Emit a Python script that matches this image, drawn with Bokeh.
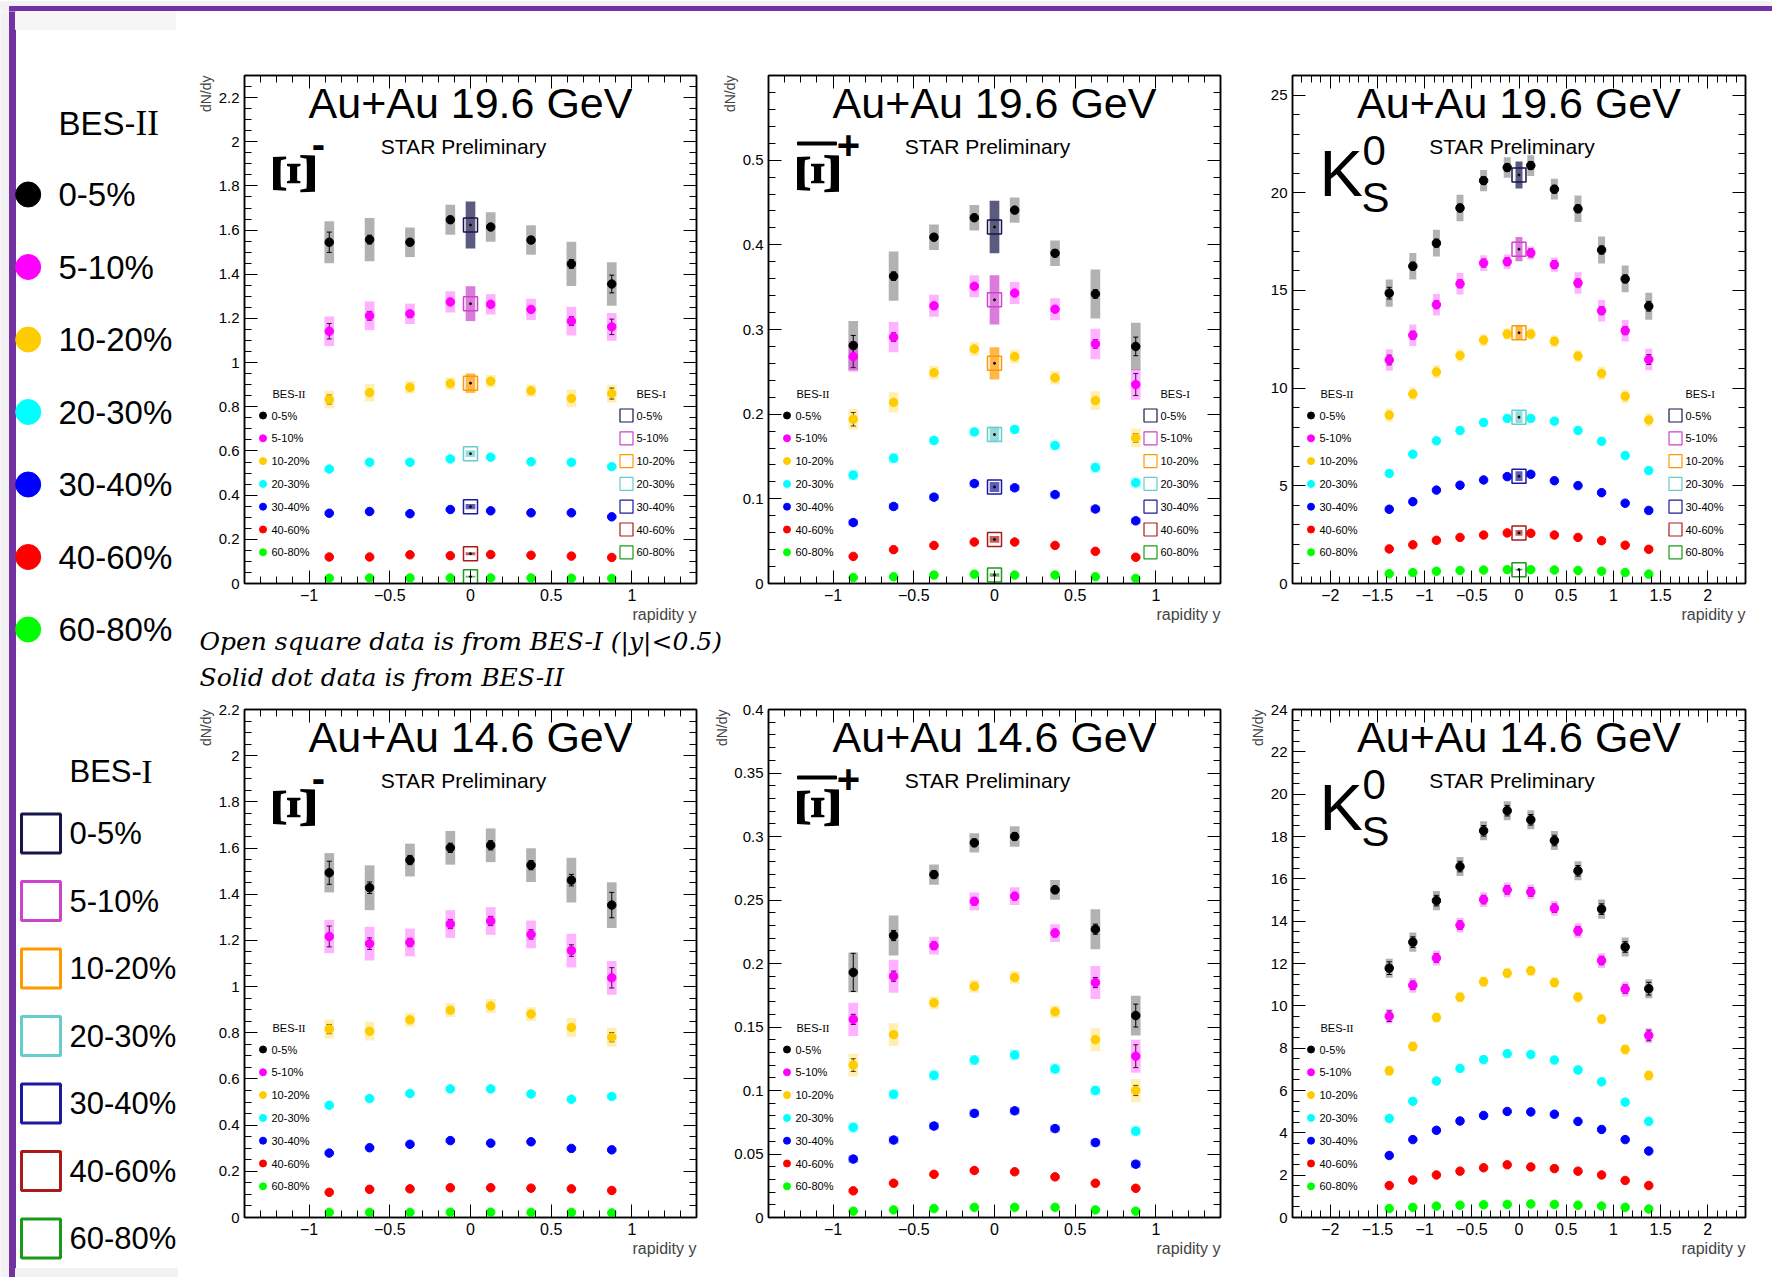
import math
from bokeh.plotting import figure
from bokeh.models import (Range1d, LinearAxis, SingleIntervalTicker, CustomJSTickFormatter,
                          ColumnDataSource, Whisker, TeeHead, Label, Title)
from bokeh.layouts import row, column
from bokeh.embed import file_html
from bokeh.resources import INLINE

# ---------------------------------------------------------------- data
CENTRALITIES = ["0-5%", "5-10%", "10-20%", "20-30%", "30-40%", "40-60%", "60-80%"]
BES2_COLORS = ["#000000", "#ff00ff", "#ffcc00", "#00ffff", "#0000ff", "#ff0000", "#00ff00"]
BES1_COLORS = ["#16164a", "#cc44cc", "#ff9900", "#66cccc", "#1a1aa0", "#aa1a1a", "#1a9a1a"]

Y_XI = [-0.875, -0.625, -0.375, -0.125, 0.125, 0.375, 0.625, 0.875]
Y_K0 = [-1.375, -1.125, -0.875, -0.625, -0.375, -0.125, 0.125, 0.375, 0.625, 0.875, 1.125, 1.375]

# Xi- 19.6 GeV
XIM196 = [
    [1.545, 1.557, 1.545, 1.647, 1.614, 1.555, 1.447, 1.356],
    [1.142, 1.212, 1.221, 1.275, 1.264, 1.241, 1.188, 1.162],
    [0.833, 0.864, 0.888, 0.905, 0.916, 0.873, 0.838, 0.860],
    [0.518, 0.549, 0.549, 0.564, 0.572, 0.551, 0.549, 0.529],
    [0.318, 0.326, 0.316, 0.335, 0.329, 0.320, 0.320, 0.302],
    [0.120, 0.120, 0.130, 0.126, 0.131, 0.128, 0.124, 0.118],
    [0.024, 0.025, 0.025, 0.025, 0.025, 0.025, 0.024, 0.023],
]
XIM196_SYS = [
    [0.095, 0.098, 0.067, 0.068, 0.067, 0.067, 0.100, 0.098],
    [0.067, 0.065, 0.046, 0.048, 0.046, 0.048, 0.065, 0.063],
    [0.040, 0.040, 0.028, 0.028, 0.028, 0.028, 0.040, 0.040],
    [0.012, 0.012, 0.012, 0.012, 0.012, 0.012, 0.012, 0.012],
    [0.008, 0.008, 0.008, 0.008, 0.008, 0.008, 0.008, 0.008],
    [0.005, 0.005, 0.005, 0.005, 0.005, 0.005, 0.005, 0.005],
    [0.003, 0.003, 0.003, 0.003, 0.003, 0.003, 0.003, 0.003],
]
XIM196_STAT = [
    [0.046, 0.020, 0.015, 0.015, 0.015, 0.015, 0.020, 0.040],
    [0.035, 0.020, 0.015, 0.015, 0.012, 0.012, 0.020, 0.035],
    [0.020, 0.010, 0.010, 0.010, 0.010, 0.010, 0.010, 0.025],
]
XIM196_BES1 = [1.623, 1.267, 0.907, 0.588, 0.348, 0.135, 0.031]
XIM196_BES1_SYS = [0.106, 0.079, 0.044, 0.015, 0.012, 0.007, 0.004]

# anti-Xi+ 19.6 GeV
XIP196 = [
    [0.281, 0.363, 0.409, 0.432, 0.441, 0.390, 0.342, 0.280],
    [0.268, 0.291, 0.328, 0.351, 0.343, 0.324, 0.283, 0.235],
    [0.194, 0.214, 0.249, 0.277, 0.268, 0.243, 0.216, 0.172],
    [0.128, 0.148, 0.169, 0.179, 0.182, 0.163, 0.137, 0.119],
    [0.072, 0.091, 0.102, 0.118, 0.113, 0.105, 0.088, 0.074],
    [0.032, 0.040, 0.045, 0.049, 0.049, 0.045, 0.038, 0.031],
    [0.007, 0.008, 0.010, 0.011, 0.010, 0.010, 0.008, 0.006],
]
XIP196_SYS = [
    [0.029, 0.029, 0.015, 0.015, 0.015, 0.015, 0.029, 0.028],
    [0.018, 0.018, 0.013, 0.013, 0.013, 0.013, 0.018, 0.018],
    [0.012, 0.012, 0.008, 0.008, 0.008, 0.008, 0.011, 0.011],
    [0.006, 0.006, 0.005, 0.005, 0.005, 0.005, 0.006, 0.006],
    [0.004, 0.004, 0.004, 0.004, 0.004, 0.004, 0.004, 0.004],
    [0.002, 0.002, 0.002, 0.002, 0.002, 0.002, 0.002, 0.002],
    [0.001, 0.001, 0.001, 0.001, 0.001, 0.001, 0.001, 0.001],
]
XIP196_STAT = [
    [0.012, 0.005, 0.004, 0.004, 0.004, 0.004, 0.005, 0.011],
    [0.013, 0.005, 0.004, 0.003, 0.003, 0.003, 0.005, 0.013],
    [0.008, 0.003, 0.002, 0.002, 0.002, 0.002, 0.003, 0.005],
]
XIP196_BES1 = [0.421, 0.335, 0.260, 0.176, 0.114, 0.052, 0.010]
XIP196_BES1_SYS = [0.031, 0.029, 0.019, 0.009, 0.006, 0.004, 0.002]

# K0S 19.6 GeV
K0196 = [
    [14.86, 16.24, 17.42, 19.22, 20.62, 21.29, 21.39, 20.18, 19.18, 17.07, 15.59, 14.19],
    [11.44, 12.71, 14.27, 15.34, 16.40, 16.47, 16.92, 16.32, 15.38, 13.96, 12.94, 11.46],
    [8.62, 9.70, 10.83, 11.67, 12.46, 12.77, 12.77, 12.40, 11.64, 10.75, 9.58, 8.37],
    [5.63, 6.62, 7.30, 7.83, 8.24, 8.45, 8.45, 8.31, 7.83, 7.28, 6.55, 5.78],
    [3.80, 4.19, 4.78, 5.03, 5.30, 5.47, 5.59, 5.26, 5.01, 4.65, 4.11, 3.74],
    [1.77, 1.98, 2.21, 2.36, 2.48, 2.59, 2.57, 2.48, 2.36, 2.19, 1.96, 1.75],
    [0.50, 0.56, 0.63, 0.67, 0.69, 0.71, 0.71, 0.69, 0.67, 0.63, 0.56, 0.48],
]
K0196_SYS = [
    [0.70, 0.68, 0.69, 0.68, 0.54, 0.52, 0.53, 0.53, 0.68, 0.69, 0.68, 0.69],
    [0.55, 0.55, 0.55, 0.55, 0.40, 0.37, 0.33, 0.37, 0.55, 0.55, 0.55, 0.55],
    [0.34, 0.34, 0.34, 0.32, 0.30, 0.30, 0.30, 0.30, 0.32, 0.34, 0.34, 0.34],
    [0.20, 0.20, 0.20, 0.20, 0.20, 0.20, 0.20, 0.20, 0.20, 0.20, 0.20, 0.20],
    [0.15, 0.15, 0.15, 0.15, 0.15, 0.15, 0.15, 0.15, 0.15, 0.15, 0.15, 0.15],
    [0.08, 0.08, 0.08, 0.08, 0.08, 0.08, 0.08, 0.08, 0.08, 0.08, 0.08, 0.08],
    [0.03, 0.03, 0.03, 0.03, 0.03, 0.03, 0.03, 0.03, 0.03, 0.03, 0.03, 0.03],
]
K0196_STAT = [
    [0.30, 0.20, 0.20, 0.20, 0.20, 0.20, 0.20, 0.20, 0.20, 0.20, 0.20, 0.25],
    [0.25, 0.20, 0.20, 0.20, 0.20, 0.20, 0.20, 0.20, 0.20, 0.20, 0.20, 0.25],
    [0.15, 0.15, 0.15, 0.15, 0.15, 0.15, 0.15, 0.15, 0.15, 0.15, 0.15, 0.15],
]
K0196_BES1 = [20.91, 17.11, 12.83, 8.51, 5.49, 2.59, 0.71]
K0196_BES1_SYS = [0.69, 0.62, 0.35, 0.30, 0.25, 0.15, 0.05]

# Xi- 14.6 GeV
XIM146 = [
    [1.493, 1.428, 1.548, 1.601, 1.612, 1.526, 1.461, 1.353],
    [1.217, 1.186, 1.191, 1.271, 1.284, 1.226, 1.156, 1.038],
    [0.816, 0.807, 0.856, 0.898, 0.916, 0.881, 0.823, 0.781],
    [0.486, 0.515, 0.537, 0.557, 0.557, 0.535, 0.512, 0.524],
    [0.279, 0.302, 0.317, 0.333, 0.322, 0.328, 0.299, 0.293],
    [0.109, 0.122, 0.124, 0.129, 0.129, 0.127, 0.124, 0.117],
    [0.022, 0.022, 0.022, 0.023, 0.023, 0.022, 0.022, 0.020],
]
XIM146_SYS = [
    [0.085, 0.097, 0.071, 0.073, 0.073, 0.073, 0.097, 0.099],
    [0.072, 0.073, 0.060, 0.060, 0.060, 0.060, 0.073, 0.073],
    [0.041, 0.041, 0.030, 0.030, 0.030, 0.030, 0.041, 0.041],
    [0.012, 0.012, 0.012, 0.012, 0.012, 0.012, 0.012, 0.012],
    [0.008, 0.008, 0.008, 0.008, 0.008, 0.008, 0.008, 0.008],
    [0.005, 0.005, 0.005, 0.005, 0.005, 0.005, 0.005, 0.005],
    [0.002, 0.002, 0.002, 0.002, 0.002, 0.002, 0.002, 0.002],
]
XIM146_STAT = [
    [0.050, 0.025, 0.020, 0.020, 0.020, 0.020, 0.025, 0.055],
    [0.045, 0.025, 0.018, 0.020, 0.020, 0.020, 0.025, 0.044],
    [0.020, 0.010, 0.010, 0.010, 0.010, 0.010, 0.010, 0.020],
]

# anti-Xi+ 14.6 GeV
XIP146 = [
    [0.193, 0.222, 0.270, 0.295, 0.300, 0.258, 0.227, 0.159],
    [0.156, 0.190, 0.214, 0.249, 0.253, 0.224, 0.185, 0.127],
    [0.120, 0.144, 0.169, 0.182, 0.189, 0.162, 0.140, 0.100],
    [0.071, 0.097, 0.112, 0.124, 0.128, 0.117, 0.100, 0.068],
    [0.046, 0.061, 0.072, 0.082, 0.084, 0.070, 0.059, 0.042],
    [0.021, 0.027, 0.034, 0.037, 0.036, 0.032, 0.027, 0.023],
    [0.005, 0.006, 0.007, 0.008, 0.008, 0.008, 0.006, 0.005],
]
XIP146_SYS = [
    [0.0156, 0.0157, 0.0080, 0.0076, 0.0080, 0.0078, 0.0157, 0.0156],
    [0.013, 0.013, 0.007, 0.007, 0.007, 0.007, 0.013, 0.013],
    [0.009, 0.009, 0.005, 0.005, 0.005, 0.005, 0.009, 0.009],
    [0.004, 0.004, 0.004, 0.004, 0.004, 0.004, 0.004, 0.004],
    [0.003, 0.003, 0.003, 0.003, 0.003, 0.003, 0.003, 0.003],
    [0.0015, 0.0015, 0.0015, 0.0015, 0.0015, 0.0015, 0.0015, 0.0015],
    [0.0008, 0.0008, 0.0008, 0.0008, 0.0008, 0.0008, 0.0008, 0.0008],
]
XIP146_STAT = [
    [0.015, 0.004, 0.003, 0.003, 0.003, 0.003, 0.004, 0.009],
    [0.004, 0.004, 0.003, 0.003, 0.003, 0.003, 0.004, 0.009],
    [0.005, 0.002, 0.002, 0.002, 0.002, 0.002, 0.002, 0.004],
]

# K0S 14.6 GeV
K0146 = [
    [11.78, 13.01, 14.97, 16.58, 18.27, 19.22, 18.79, 17.81, 16.38, 14.57, 12.78, 10.81],
    [9.51, 10.97, 12.26, 13.81, 15.02, 15.48, 15.38, 14.61, 13.55, 12.14, 10.79, 8.60],
    [6.93, 8.08, 9.45, 10.41, 11.14, 11.54, 11.66, 11.10, 10.41, 9.37, 7.94, 6.71],
    [4.68, 5.49, 6.45, 7.04, 7.46, 7.74, 7.70, 7.44, 6.97, 6.41, 5.45, 4.54],
    [2.93, 3.68, 4.12, 4.56, 4.82, 5.01, 4.99, 4.88, 4.54, 4.16, 3.68, 3.14],
    [1.51, 1.77, 2.01, 2.19, 2.35, 2.49, 2.39, 2.31, 2.19, 2.01, 1.75, 1.51],
    [0.42, 0.48, 0.54, 0.58, 0.60, 0.62, 0.64, 0.62, 0.58, 0.54, 0.48, 0.40],
]
K0146_SYS = [
    [0.45, 0.45, 0.45, 0.45, 0.45, 0.45, 0.45, 0.45, 0.45, 0.45, 0.45, 0.45],
    [0.35, 0.35, 0.35, 0.35, 0.35, 0.35, 0.35, 0.35, 0.35, 0.35, 0.35, 0.35],
    [0.25, 0.25, 0.25, 0.25, 0.25, 0.25, 0.25, 0.25, 0.25, 0.25, 0.25, 0.25],
    [0.18, 0.18, 0.18, 0.18, 0.18, 0.18, 0.18, 0.18, 0.18, 0.18, 0.18, 0.18],
    [0.12, 0.12, 0.12, 0.12, 0.12, 0.12, 0.12, 0.12, 0.12, 0.12, 0.12, 0.12],
    [0.07, 0.07, 0.07, 0.07, 0.07, 0.07, 0.07, 0.07, 0.07, 0.07, 0.07, 0.07],
    [0.03, 0.03, 0.03, 0.03, 0.03, 0.03, 0.03, 0.03, 0.03, 0.03, 0.03, 0.03],
]
K0146_STAT = [
    [0.30, 0.25, 0.25, 0.25, 0.25, 0.25, 0.25, 0.25, 0.25, 0.25, 0.25, 0.30],
    [0.25, 0.20, 0.20, 0.20, 0.20, 0.20, 0.20, 0.20, 0.20, 0.20, 0.20, 0.25],
    [0.15, 0.15, 0.15, 0.15, 0.15, 0.15, 0.15, 0.15, 0.15, 0.15, 0.15, 0.15],
]

# ---------------------------------------------------------------- style
SANS = "Liberation Sans"
SERIF = "Liberation Serif"
PURPLE = "#7232a2"
PAGE_GRAY = "#f2f2f4"

FMT = CustomJSTickFormatter(code="""
const v = Math.round(tick * 1e6) / 1e6;
return v < 0 ? '\\u2212' + String(-v) : String(v);
""")
BLANK = CustomJSTickFormatter(code="return '';")


def add_axis(p, side, ticker, labels):
    ax = LinearAxis(ticker=ticker, formatter=FMT if labels else BLANK)
    ax.axis_line_color = "black"
    ax.axis_line_width = 1.5
    ax.major_tick_in = 13
    ax.major_tick_out = 0
    ax.minor_tick_in = 7
    ax.minor_tick_out = 0
    ax.major_tick_line_width = 1
    ax.minor_tick_line_width = 1
    ax.major_tick_line_color = "black"
    ax.minor_tick_line_color = "black"
    if labels:
        ax.major_label_text_font = SANS
        ax.major_label_text_font_size = "16px" if side == "below" else "15px"
        ax.major_label_text_color = "black"
        ax.major_label_standoff = 5
    else:
        ax.major_label_text_font_size = "0px"
        ax.major_label_standoff = 0
    p.add_layout(ax, side)


def px_label(p, x, y, text, size, font=SANS, align="left", style="normal", angle=0.0):
    p.add_layout(Label(x=x, y=y, x_range_name="px", y_range_name="px", text=text,
                       text_font=font, text_font_size=size, text_font_style=style,
                       text_align=align, text_baseline="middle", text_color="black",
                       angle=angle, angle_units="rad"))


def make_panel(width, height, bl, br, bt, bb, xr, yr, xint, yint, yminor,
               xs, vals, sys, stat, halfw, energy, particle, ylabel,
               bes1=None, bes1_sys=None):
    W = width - bl - br
    H = height - bt - bb
    p = figure(width=width, height=height, x_range=Range1d(*xr), y_range=Range1d(*yr),
               x_axis_type=None, y_axis_type=None, output_backend="svg",
               toolbar_location=None, title=None,
               min_border_left=bl, min_border_right=br, min_border_top=bt, min_border_bottom=bb)
    p.extra_x_ranges = {"px": Range1d(0, W)}
    p.extra_y_ranges = {"px": Range1d(0, H)}
    p.outline_line_color = "black"
    p.outline_line_width = 1.5
    p.background_fill_color = "white"
    p.border_fill_color = "white"

    xt = SingleIntervalTicker(interval=xint, num_minor_ticks=5)
    yt = SingleIntervalTicker(interval=yint, num_minor_ticks=yminor)
    add_axis(p, "below", xt, True)
    add_axis(p, "above", xt, False)
    add_axis(p, "left", yt, True)
    add_axis(p, "right", yt, False)
    if ylabel:
        p.add_layout(Title(text="dN/dy", align="right", text_font=SANS, text_font_size="14px",
                           text_font_style="normal", standoff=4), "left")
    p.add_layout(Title(text="rapidity y", align="right", text_font=SANS, text_font_size="16px",
                       text_font_style="normal", standoff=0), "below")

    n = len(CENTRALITIES)
    for i in range(n):
        p.quad(left=[x - halfw for x in xs], right=[x + halfw for x in xs],
               bottom=[v - s for v, s in zip(vals[i], sys[i])],
               top=[v + s for v, s in zip(vals[i], sys[i])],
               fill_color=BES2_COLORS[i], fill_alpha=0.3, line_color=None)
    if bes1 is not None:
        p.quad(left=[-halfw] * n, right=[halfw] * n,
               bottom=[v - s for v, s in zip(bes1, bes1_sys)],
               top=[v + s for v, s in zip(bes1, bes1_sys)],
               fill_color=BES1_COLORS, fill_alpha=0.7, line_color=None)
    for i in range(n):
        p.scatter(xs, vals[i], marker="circle", size=8.5, color=BES2_COLORS[i])
    if bes1 is not None:
        p.scatter([0.0] * n, bes1, marker="square", size=14, fill_color=None,
                  line_color=BES1_COLORS, line_width=1.5)
        p.scatter([0.0] * n, bes1, marker="circle", size=2, color="black")
    for i in range(len(stat)):
        src = ColumnDataSource(dict(x=xs,
                                    lo=[v - s for v, s in zip(vals[i], stat[i])],
                                    hi=[v + s for v, s in zip(vals[i], stat[i])]))
        p.add_layout(Whisker(source=src, base="x", lower="lo", upper="hi", dimension="height",
                             line_color="black", line_width=1,
                             upper_head=TeeHead(size=5, line_color="black", line_width=1),
                             lower_head=TeeHead(size=5, line_color="black", line_width=1)))

    # texts inside the frame (positions in frame pixels, measured from bottom-left)
    px_label(p, W / 2, 481, f"Au+Au {energy} GeV", "43px", align="center")
    px_label(p, W / 2 - 7, 437, "STAR Preliminary", "21px", align="center")
    if particle in ("xim", "xip"):
        px_label(p, 49, 410, "Ξ", "64px", font=SERIF, align="center",
                 style="bold", angle=math.pi / 2)
        if particle == "xim":
            px_label(p, 74, 440, "-", "40px", align="center", style="bold")
        else:
            p.quad(left=[29], right=[68], bottom=[438.5], top=[441.5], color="black",
                   x_range_name="px", y_range_name="px")
            px_label(p, 80, 439, "+", "40px", align="center", style="bold")
    else:
        px_label(p, 27, 410, "K", "65px")
        px_label(p, 70, 433, "0", "42px")
        px_label(p, 69, 386, "S", "42px")

    ys_leg = [168 - 22.8 * i for i in range(n)]
    px_label(p, 28, 190, "BES-", "11px")
    px_label(p, 53.7, 190, "II", "11px", font=SERIF)
    p.scatter([18.5] * n, ys_leg, marker="circle", size=7, color=BES2_COLORS,
              x_range_name="px", y_range_name="px")
    for i in range(n):
        px_label(p, 27, ys_leg[i], CENTRALITIES[i], "11px")
    if bes1 is not None:
        px_label(p, W - 60, 190, "BES-", "11px")
        px_label(p, W - 60 + 25.7, 190, "I", "11px", font=SERIF)
        p.scatter([W - 70] * n, ys_leg, marker="square", size=13, fill_color=None,
                  line_color=BES1_COLORS, line_width=1.2, x_range_name="px", y_range_name="px")
        for i in range(n):
            px_label(p, W - 60, ys_leg[i], CENTRALITIES[i], "11px")
    return p


# ---------------------------------------------------------------- panels
TOP_H = 11
R1H, R1T, R1B = 615, 64, 43
TXT_H = 71
R2H, R2T, R2B = 580, 12, 60
LEG_W = 180

p1 = make_panel(528, R1H, 64, 12, R1T, R1B, (-1.4, 1.4), (0, 2.3), 0.5, 0.2, 4,
                Y_XI, XIM196, XIM196_SYS, XIM196_STAT, 0.03, "19.6", "xim", True,
                XIM196_BES1, XIM196_BES1_SYS)
p2 = make_panel(524, R1H, 60, 12, R1T, R1B, (-1.4, 1.4), (0, 0.6), 0.5, 0.1, 5,
                Y_XI, XIP196, XIP196_SYS, XIP196_STAT, 0.03, "19.6", "xip", True,
                XIP196_BES1, XIP196_BES1_SYS)
p3 = make_panel(540, R1H, 60, 27, R1T, R1B, (-2.4, 2.4), (0, 26), 0.5, 5, 5,
                Y_K0, K0196, K0196_SYS, K0196_STAT, 0.037, "19.6", "k0", False,
                K0196_BES1, K0196_BES1_SYS)
p4 = make_panel(528, R2H, 64, 12, R2T, R2B, (-1.4, 1.4), (0, 2.2), 0.5, 0.2, 4,
                Y_XI, XIM146, XIM146_SYS, XIM146_STAT, 0.03, "14.6", "xim", True)
p5 = make_panel(524, R2H, 60, 12, R2T, R2B, (-1.4, 1.4), (0, 0.4), 0.5, 0.05, 5,
                Y_XI, XIP146, XIP146_SYS, XIP146_STAT, 0.03, "14.6", "xip", True)
p6 = make_panel(540, R2H, 60, 27, R2T, R2B, (-2.4, 2.4), (0, 24), 0.5, 2, 4,
                Y_K0, K0146, K0146_SYS, K0146_STAT, 0.037, "14.6", "k0", True)

TOTAL_W = LEG_W + 528 + 524 + 540
TOTAL_H = TOP_H + R1H + TXT_H + R2H

# ---------------------------------------------------------------- page decorations
top = figure(width=TOTAL_W, height=TOP_H, x_range=Range1d(0, TOTAL_W), y_range=Range1d(TOP_H, 0),
             x_axis_type=None, y_axis_type=None, min_border=0, toolbar_location=None,
             output_backend="svg", title=None)
top.outline_line_color = None
top.background_fill_color = PAGE_GRAY
top.border_fill_color = PAGE_GRAY
top.quad(left=[0], right=[TOTAL_W], top=[0], bottom=[TOP_H], color=PAGE_GRAY)
top.quad(left=[9], right=[TOTAL_W], top=[5], bottom=[TOP_H], color=PURPLE)

lg = figure(width=LEG_W, height=TOTAL_H - TOP_H, x_range=Range1d(0, LEG_W),
            y_range=Range1d(TOTAL_H, TOP_H),
            x_axis_type=None, y_axis_type=None, min_border=0, toolbar_location=None,
            output_backend="svg", title=None)
lg.outline_line_color = None
lg.quad(left=[0], right=[9], top=[TOP_H], bottom=[TOTAL_H], color=PAGE_GRAY)
lg.quad(left=[9], right=[15], top=[TOP_H], bottom=[TOTAL_H], color=PURPLE)
lg.quad(left=[15], right=[175], top=[TOP_H], bottom=[29], color="#f6f6f6")
lg.quad(left=[15], right=[177], top=[1268], bottom=[TOTAL_H], color="#f2f2f2")


def lg_label(x, y, text, size, font=SANS):
    lg.add_layout(Label(x=x, y=y, text=text, text_font=font, text_font_size=size,
                        text_baseline="middle", text_align="left", text_color="black"))


lg_label(58, 123, "BES-", "33px")
lg_label(135, 123, "II", "35px", font=SERIF)
ys2 = [194 + 72.5 * i for i in range(7)]
lg.scatter([27.7] * 7, ys2, marker="circle", size=25, color=BES2_COLORS)
for i, c in enumerate(CENTRALITIES):
    lg_label(58, ys2[i], c, "33px")

lg_label(69, 771, "BES-", "31px")
lg_label(141, 771, "I", "33px", font=SERIF)
ys1 = [833 + 67.5 * i for i in range(7)]
lg.scatter([40.5] * 7, ys1, marker="square", size=39, fill_color=None,
           line_color=BES1_COLORS, line_width=3)
for i, c in enumerate(CENTRALITIES):
    lg_label(69, ys1[i], c, "31px")

TXT_TOP = TOP_H + R1H
tf = figure(width=TOTAL_W - LEG_W, height=TXT_H, x_range=Range1d(LEG_W, TOTAL_W),
            y_range=Range1d(TXT_TOP + TXT_H, TXT_TOP),
            x_axis_type=None, y_axis_type=None, min_border=0, toolbar_location=None,
            output_backend="svg", title=None)
tf.outline_line_color = None
tf.add_layout(Label(x=199, y=641, text="Open square data is from BES-I  (|y|<0.5)",
                    text_font="DejaVu Serif", text_font_style="italic", text_font_size="25px",
                    text_baseline="middle", text_color="black"))
tf.add_layout(Label(x=199, y=677, text="Solid dot data is from BES-II",
                    text_font="DejaVu Serif", text_font_style="italic", text_font_size="25px",
                    text_baseline="middle", text_color="black"))

layout = column(top, row(lg, column(row(p1, p2, p3), tf, row(p4, p5, p6))))
open("out.html", "w").write(file_html(layout, INLINE))
